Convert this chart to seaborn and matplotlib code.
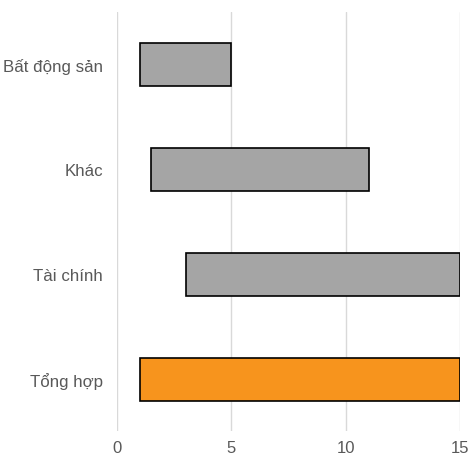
import matplotlib
matplotlib.use("Agg")
import matplotlib.pyplot as plt
import seaborn as sns
import pandas as pd

# Sector ranges (start and end of each floating bar)
categories = ["Bất động sản", "Khác", "Tài chính", "Tổng hợp"]
range_start = [1.0, 1.5, 3.0, 1.0]
range_end = [5.0, 11.0, 15.0, 15.0]
bar_colors = ["#a5a5a5", "#a5a5a5", "#a5a5a5", "#f7941d"]
x_ticks = [0, 5, 10, 15]

sns.set_theme(style="white")
plt.rcParams["font.family"] = ["Liberation Sans", "DejaVu Sans"]

df = pd.DataFrame({"category": categories,
                   "start": range_start,
                   "end": range_end})
df["span"] = df["end"] - df["start"]

fig = plt.figure(figsize=(4.7, 4.6), dpi=100)
ax = fig.add_axes([0.249, 0.0598, 0.730, 0.912])

sns.barplot(data=df, x="span", y="category", hue="category",
            palette=bar_colors, legend=False, width=0.41,
            edgecolor="black", linewidth=1.2, saturation=1, ax=ax,
            zorder=3)

# Shift each bar so that it starts at its range start
for patch, start, span in zip(ax.patches, df["start"], df["span"]):
    patch.set_x(start)
    patch.set_width(span)

ax.set_xlim(0, 15)
ax.set_ylim(3.5, -0.5)
ax.set_xticks(x_ticks)
ax.set_xticklabels([str(t) for t in x_ticks])
ax.xaxis.grid(True, color="#d9d9d9", linewidth=1.0, zorder=0)
ax.yaxis.grid(False)
for side in ["top", "right", "left", "bottom"]:
    ax.spines[side].set_visible(False)
ax.set_xlabel("")
ax.set_ylabel("")
ax.tick_params(axis="x", length=0, pad=6, labelsize=12, labelcolor="#595959")
ax.tick_params(axis="y", length=0, pad=10, labelsize=12.2, labelcolor="#595959")

fig.savefig("out.png", dpi=100)
